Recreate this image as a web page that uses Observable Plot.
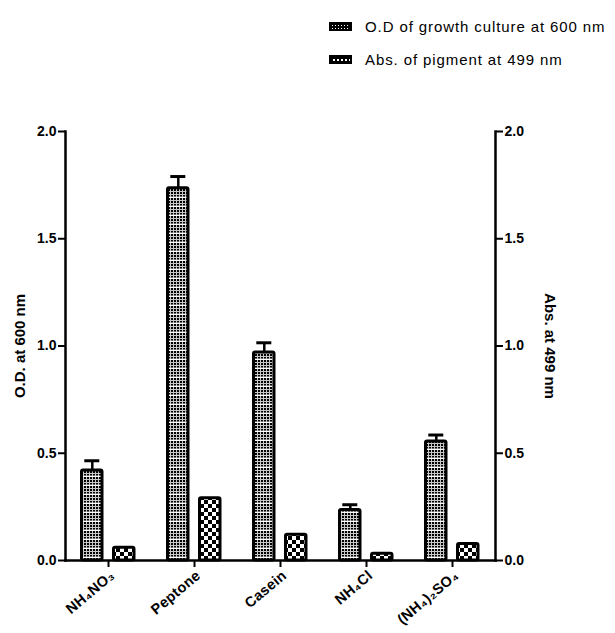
<!DOCTYPE html>
<html>
<head>
<meta charset="utf-8">
<script src="https://cdn.jsdelivr.net/npm/d3@7"></script>
<script src="https://cdn.jsdelivr.net/npm/@observablehq/plot@0.6"></script>
<style>
  body { margin: 0; background: #fff; font-family: "Liberation Sans", Arial, sans-serif; }
  #wrap { position: relative; width: 615px; height: 633px; }
  #legend { position: absolute; left: 329px; top: 10px; font-size: 15px; letter-spacing: 0.9px; color: #000; }
  .item { display: flex; align-items: center; height: 33px; }
  .item svg { margin-right: 13px; }
  #chart svg g[aria-label="x-axis tick label"] text { font-size: 14.5px; letter-spacing: 0.3px; }
  #chart svg g[aria-label="y-axis tick label"] text { font-size: 14px; }
</style>
</head>
<body>
<div id="wrap">
  <div id="chart"></div>
  <div id="legend"></div>
</div>
<script>
const categories = ["NH₄NO₃", "Peptone", "Casein", "NH₄Cl", "(NH₄)₂SO₄"];
const odValues = [0.42, 1.735, 0.97, 0.235, 0.555];
const odErrors = [0.045, 0.055, 0.045, 0.025, 0.03];
const pigmentValues = [0.06, 0.29, 0.12, 0.032, 0.077];
const yTicks = [0, 0.5, 1.0, 1.5, 2.0];
const seriesNames = ["O.D of growth culture at 600 nm", "Abs. of pigment at 499 nm"];
const leftLabel = "O.D. at 600 nm";
const rightLabel = "Abs. at 499 nm";

const data = categories.map((c, i) => ({cat: c, od: odValues[i], err: odErrors[i], pig: pigmentValues[i]}));

const chart = Plot.plot({
  width: 615,
  height: 633,
  marginLeft: 65,
  marginRight: 120,
  marginTop: 131,
  marginBottom: 73,
  style: {fontFamily: "'Liberation Sans', Arial, sans-serif", fontWeight: "bold", fontSize: "14px", color: "#000", background: "#fff"},
  x: {domain: categories, padding: 0},
  y: {domain: [0, 2]},
  marks: [
    Plot.barY(data, {x: "cat", y: "od", insetLeft: 16.5, insetRight: 49, fill: "url(#patOD)", stroke: "#000", strokeWidth: 3, rx: 1.5}),
    Plot.barY(data, {x: "cat", y: "pig", insetLeft: 48.5, insetRight: 17, fill: "url(#patPig)", stroke: "#000", strokeWidth: 3, rx: 1.5}),
    Plot.ruleX(data, {x: "cat", y1: "od", y2: d => d.od + d.err, dx: -16.2, stroke: "#000", strokeWidth: 2.5}),
    Plot.tickY(data, {x: "cat", y: d => d.od + d.err, dx: -16.2, insetLeft: 35.5, insetRight: 35.5, stroke: "#000", strokeWidth: 3}),
    Plot.frame({anchor: "left", strokeWidth: 2.5}),
    Plot.frame({anchor: "right", strokeWidth: 2.5}),
    Plot.frame({anchor: "bottom", strokeWidth: 2.5}),
    Plot.axisY({anchor: "left", ticks: yTicks, tickFormat: d3.format(".1f"), tickSize: 7, tickPadding: 2, strokeWidth: 2, label: null}),
    Plot.axisY({anchor: "right", ticks: yTicks, tickFormat: d3.format(".1f"), tickSize: 7, tickPadding: 2, strokeWidth: 2, label: null}),
    Plot.axisX({anchor: "bottom", tickRotate: -40, tickSize: 7, strokeWidth: 2, label: null}),
    Plot.axisX({anchor: "bottom", tickRotate: -40, tickSize: 0, tickPadding: 13, dx: 4, label: null}),
    Plot.text([leftLabel], {frameAnchor: "left", dx: -45, rotate: -90, fontSize: 15, fontWeight: "bold", textAnchor: "middle", lineAnchor: "middle"}),
    Plot.text([rightLabel], {frameAnchor: "right", dx: 54, rotate: 90, fontSize: 15, fontWeight: "bold", textAnchor: "middle", lineAnchor: "middle"})
  ]
});

// remove the duplicated labels of the first x axis (tick marks only from it)
const xLabelGroups = chart.querySelectorAll('g[aria-label="x-axis tick label"]');
if (xLabelGroups.length > 1) xLabelGroups[0].remove();

const ns = "http://www.w3.org/2000/svg";
const defs = `
<pattern id="patOD" patternUnits="userSpaceOnUse" width="3" height="9">
  <rect width="3" height="9" fill="#c8c8c8"/>
  <rect y="0" width="2" height="2" fill="#000"/>
  <rect y="3" width="2" height="2" fill="#000"/>
  <rect y="6" width="2" height="1.5" fill="#000"/>
  <rect y="8" width="3" height="1" fill="#fff"/>
</pattern>
<pattern id="patPig" patternUnits="userSpaceOnUse" width="8" height="8">
  <rect width="8" height="8" fill="#fff"/>
  <rect width="4" height="4" fill="#000"/>
  <rect x="4" y="4" width="4" height="4" fill="#000"/>
</pattern>
<pattern id="patLeg1" patternUnits="userSpaceOnUse" width="3" height="3">
  <rect width="3" height="3" fill="#000"/>
  <rect width="1" height="1" fill="#fff"/>
</pattern>
<pattern id="patLeg2" patternUnits="userSpaceOnUse" width="4" height="4">
  <rect width="4" height="4" fill="#000"/>
  <rect width="2" height="2" fill="#fff"/>
</pattern>`;
const d = document.createElementNS(ns, "defs");
d.innerHTML = defs;
chart.insertBefore(d, chart.firstChild);
document.getElementById("chart").appendChild(chart);

const legend = document.getElementById("legend");
const pats = ["patLeg1", "patLeg2"];
seriesNames.forEach((name, i) => {
  const item = document.createElement("div");
  item.className = "item";
  item.innerHTML = `<svg width="23" height="9"><rect x="1" y="1" width="21" height="7" fill="url(#${pats[i]})" stroke="#000" stroke-width="2"/></svg><span>${name}</span>`;
  legend.appendChild(item);
});
</script>
</body>
</html>
